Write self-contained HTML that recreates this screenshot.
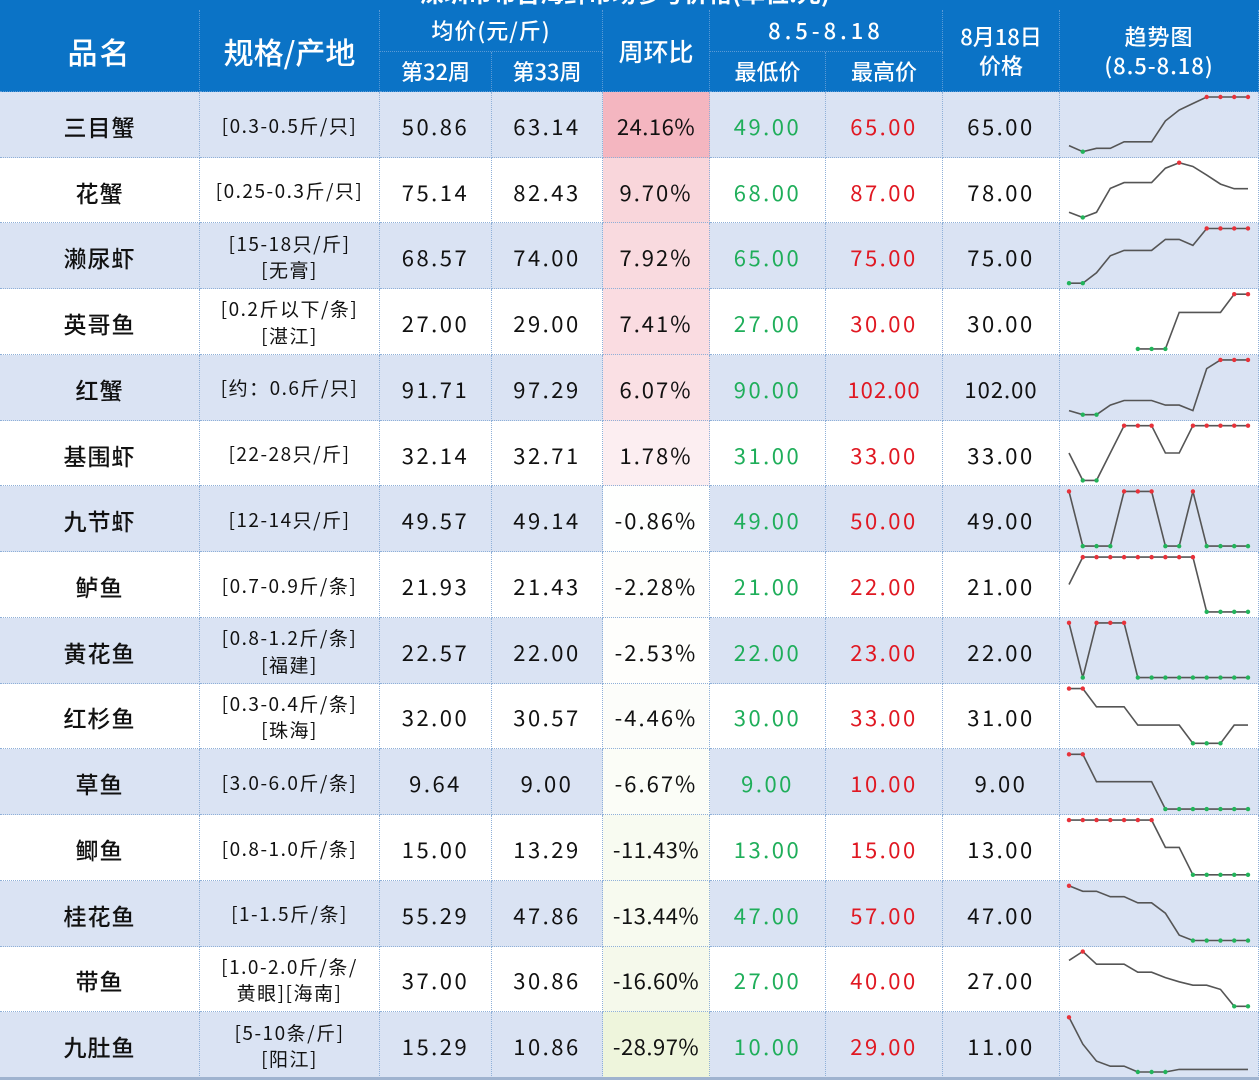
<!DOCTYPE html>
<html><head><meta charset="utf-8">
<style>
body{margin:0;width:1259px;height:1080px;overflow:hidden;background:#fff;font-family:"Liberation Sans","Noto Sans CJK SC",sans-serif;}
#wrap{position:absolute;left:0;top:0;width:1259px;height:1080px;}
.c{position:absolute;box-sizing:border-box;display:flex;align-items:center;justify-content:center;text-align:center;border-right:1px dotted #8fb0d8;border-bottom:1px dotted #8fb0d8;color:#111;font-family:"Noto Sans CJK SC",sans-serif;padding-top:3px;}
.h{background:#0b73c6;color:#fff;border-color:#5a9ad6;font-weight:500;padding-top:0;}
svg{position:absolute;left:0;top:0;}
</style></head><body>
<div id="wrap">
<div style="position:absolute;left:0;top:0;width:1259px;height:10px;background:#0b73c6;overflow:hidden"><div style="position:absolute;left:420px;top:-26px;color:#fff;font-size:24px;font-family:'Noto Sans CJK SC',sans-serif;font-weight:bold">深圳市布吉海鲜市场参考价格(单位:元)</div></div>
</div>
<script>
const names=["三目蟹","花蟹","濑尿虾","英哥鱼","红蟹","基围虾","九节虾","鲈鱼","黄花鱼","红杉鱼","草鱼","鲫鱼","桂花鱼","带鱼","九肚鱼"];
const specs=["[0.3-0.5斤/只]","[0.25-0.3斤/只]","[15-18只/斤]<br>[无膏]","[0.2斤以下/条]<br>[湛江]","[约：0.6斤/只]","[22-28只/斤]","[12-14只/斤]","[0.7-0.9斤/条]","[0.8-1.2斤/条]<br>[福建]","[0.3-0.4斤/条]<br>[珠海]","[3.0-6.0斤/条]","[0.8-1.0斤/条]","[1-1.5斤/条]","[1.0-2.0斤/条/<br>黄眼][海南]","[5-10条/斤]<br>[阳江]"];
const week32=["50.86","75.14","68.57","27.00","91.71","32.14","49.57","21.93","22.57","32.00","9.64","15.00","55.29","37.00","15.29"];
const week33=["63.14","82.43","74.00","29.00","97.29","32.71","49.14","21.43","22.00","30.57","9.00","13.29","47.86","30.86","10.86"];
const wow=[24.16,9.70,7.92,7.41,6.07,1.78,-0.86,-2.28,-2.53,-4.46,-6.67,-11.43,-13.44,-16.60,-28.97];
const minP=["49.00","68.00","65.00","27.00","90.00","31.00","49.00","21.00","22.00","30.00","9.00","13.00","47.00","27.00","10.00"];
const maxP=["65.00","87.00","75.00","30.00","102.00","33.00","50.00","22.00","23.00","33.00","10.00","15.00","57.00","40.00","29.00"];
const last=["65.00","78.00","75.00","30.00","102.00","33.00","49.00","21.00","22.00","31.00","9.00","13.00","47.00","27.00","11.00"];
const s0=[50.8,49,50,50,51.9,51.9,51.9,58,61.2,63.1,65,65,65,65];
const s1=[69.8,68,69.8,78.1,80.1,80.1,80.1,85.1,87,85.7,82.7,79.6,78,78];
const s2=[65,65,66.9,70,71,71,71,73,73,71.9,75,75,75,75];
const s3=[null,null,null,null,null,27,27,27,29,29,29,29,30,30];
const s4=[90.9,90,90,92.1,93.1,93.1,93.1,92.1,92.1,90.9,100.1,102,102,102];
const s5=[32,31,31,32,33,33,33,32,32,33,33,33,33,33];
const s6=[50,49,49,49,50,50,50,49,49,50,49,49,49,49];
const s7=[21.5,22,22,22,22,22,22,22,22,22,21,21,21,21];
const s8=[23,22,23,23,23,22,22,22,22,22,22,22,22,22];
const s9=[33,33,32,32,32,31,31,31,31,30,30,30,31,31];
const s10=[10,10,9.5,9.5,9.5,9.5,9.5,9,9,9,9,9,9,9];
const s11=[15,15,15,15,15,15,15,14,14,13,13,13,13,13];
const s12=[57,56,56,55,55,53.9,53.9,52,48,47,47,47,47,47];
const s13=[37.9,40,37,37,37,35.1,35.1,33.8,32.8,32,32,31,27,27];
const s14=[29,19.7,13.8,12,12,10,10,10,10.9,10.9,10.9,10.9,10.9,10.9];
const series=[s0,s1,s2,s3,s4,s5,s6,s7,s8,s9,s10,s11,s12,s13,s14];

const W=document.getElementById('wrap');
const top0=92, RH=(1078-92)/15;
function cell(x,y,w,h,html,cls,name,style){
  const d=document.createElement('div');
  d.className='c '+(cls||'');
  d.style.left=x+'px';d.style.top=y+'px';d.style.width=w+'px';d.style.height=h+'px';
  if(style)d.style.cssText+=style;
  d.innerHTML=html;
  
  
  W.appendChild(d);return d;
}
const hs='font-size:22px;line-height:1.3;';
cell(0,10,200,82,'品名','h','header-name','font-size:30px;letter-spacing:2px;');
cell(200,10,180,82,'规格/产地','h','header-spec','font-size:30px;');
cell(380,10,223,42,'均价(元/斤)','h','header-avg',hs+'letter-spacing:1px;');
cell(380,52,112,40,'第32周','h','header-week32',hs);
cell(492,52,111,40,'第33周','h','header-week33',hs);
cell(603,10,107,82,'周环比','h','header-wow','font-size:25px;');
cell(710,10,233,42,'8.5-8.18','h','header-range',hs+'letter-spacing:4px;');
cell(710,52,116,40,'最低价','h','header-min',hs);
cell(826,52,117,40,'最高价','h','header-max',hs);
cell(943,10,117,82,'8月18日<br>价格','h','header-date',hs);
cell(1060,10,199,82,'趋势图<br>(8.5-8.18)','h','header-trend',hs+'letter-spacing:1px;');

function wowColor(v){
  if(v>=0){const t=Math.min(1,v/24.16);const a=0.08+0.92*Math.pow(t,0.7);
    return `rgb(${Math.round(255-11*a)},${Math.round(255-73*a)},${Math.round(255-63*a)})`;}
  const t=Math.min(1,-v/28.97);
  return `rgb(${Math.round(255-17*t)},${Math.round(255-10*t)},${Math.round(255-35*t)})`;
}
const num='font-size:22px;letter-spacing:2.5px;';
const svg=document.createElementNS('http://www.w3.org/2000/svg','svg');
svg.setAttribute('width','1259');svg.setAttribute('height','1080');


for(let i=0;i<15;i++){
  const y=top0+i*RH, bg=i%2===0?'#dae3f3':'#ffffff';
  const bgs='background:'+bg+';';
  cell(0,y,200,RH,names[i],'','item-name','font-size:23px;font-weight:500;letter-spacing:1px;'+bgs);
  cell(200,y,180,RH,specs[i],'','item-spec','font-size:19px;line-height:1.4;letter-spacing:1.5px;'+bgs);
  cell(380,y,112,RH,week32[i],'','week32-price',num+bgs);
  cell(492,y,111,RH,week33[i],'','week33-price',num+bgs);
  cell(603,y,107,RH,wow[i].toFixed(2)+'%','','wow-change','font-size:22px;letter-spacing:'+(Math.abs(wow[i])>=10?'0.5px':'2px')+';background:'+wowColor(wow[i])+';');
  cell(710,y,116,RH,minP[i],'','min-price',num+'color:#1fae5a;'+bgs);
  cell(826,y,117,RH,maxP[i],'','max-price',num+'color:#e01822;'+(maxP[i].length>5?'letter-spacing:1px;':'')+bgs);
  cell(943,y,117,RH,last[i],'','last-price',num+(last[i].length>5?'letter-spacing:1px;':'')+bgs);
  cell(1060,y,199,RH,'','','trend-cell',bgs);
  const s=series[i];const vals=s.filter(v=>v!==null);
  const mn=Math.min(...vals),mx=Math.max(...vals);
  const x0=1069,x1=1248,yt=y+5,yb=y+RH-6;
  const X=k=>x0+k*(x1-x0)/13;
  const Y=v=>mx===mn?(yt+yb)/2:yb-(v-mn)/(mx-mn)*(yb-yt);
  let d='';
  s.forEach((v,k)=>{if(v===null)return;d+=(d?'L':'M')+X(k).toFixed(1)+' '+Y(v).toFixed(1);});
  const p=document.createElementNS(svg.namespaceURI,'path');
  p.setAttribute('d',d);p.setAttribute('fill','none');p.setAttribute('stroke','#555');p.setAttribute('stroke-width','1.6');
  
  
  svg.appendChild(p);
  s.forEach((v,k)=>{
    if(v===null)return;
    if(v!==mx&&v!==mn)return;
    const c=document.createElementNS(svg.namespaceURI,'circle');
    c.setAttribute('cx',X(k));c.setAttribute('cy',Y(v));c.setAttribute('r','2.2');
    c.setAttribute('fill',v===mx?'#e8323a':'#22b45a');
    
    
    svg.appendChild(c);
  });
}
W.appendChild(svg);
const b=document.createElement('div');
b.style.cssText='position:absolute;left:0;top:1077px;width:1259px;height:3px;background:#9fb3cf;';


W.appendChild(b);
</script>
</body></html>
